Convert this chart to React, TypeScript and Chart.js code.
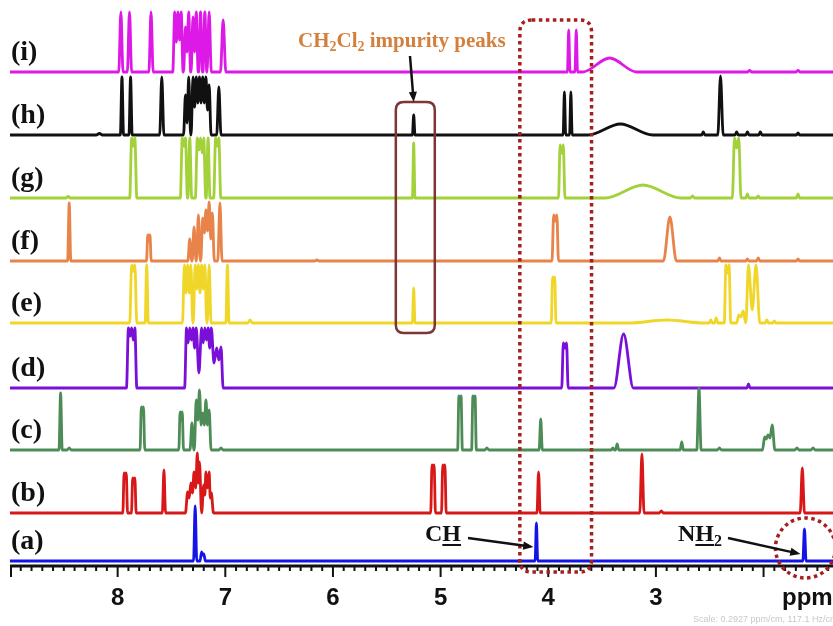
import React, { useEffect, useRef } from 'react';
import { Chart, registerables } from 'chart.js';

Chart.register(...registerables);

// ---- data ----
// each peak: [ppm, height, halfWidth?, valleyToNextPeak?]
type Peak = [number, number, number?, number?];

const PPM_MAX = 9.0;
const PPM_MIN = 1.355;

const seriesLabels = ['(a)', '(b)', '(c)', '(d)', '(e)', '(f)', '(g)', '(h)', '(i)'];
const seriesOffsets = [4, 52, 115, 177, 242, 304, 367, 430, 493];
const seriesColors = ['#1414E6', '#D81818', '#4E8C57', '#7A10D8', '#F0D628', '#E8834A', '#A3D13A', '#111111', '#DC19E6'];

const peaksA: Peak[] = [
  [7.28, 55, 0.015, 5], [7.22, 9, 0.015, 6], [7.2, 7, 0.015],
  [4.11, 38, 0.012], [1.62, 32, 0.015],
];
const peaksB: Peak[] = [
  [7.94, 40, 0.012, 35], [7.92, 40, 0.012], [7.86, 35, 0.012, 30], [7.84, 35, 0.012], [7.57, 43, 0.015],
  [7.35, 21, 0.02, 15], [7.32, 30, 0.02, 20], [7.29, 41, 0.02, 25], [7.26, 60, 0.02, 30], [7.24, 51, 0.02, 20],
  [7.2, 28, 0.02, 18], [7.18, 41, 0.02, 25], [7.15, 41, 0.02, 15], [7.13, 20, 0.02],
  [5.08, 48, 0.012, 42], [5.06, 48, 0.012], [4.98, 48, 0.012, 42], [4.96, 48, 0.012],
  [4.09, 41, 0.015], [3.13, 59, 0.02], [2.95, 2, 0.02], [1.64, 45, 0.02],
];
const peaksC: Peak[] = [
  [8.53, 57, 0.015], [8.45, 2, 0.02], [7.78, 43, 0.012, 35], [7.76, 43, 0.012],
  [7.42, 38, 0.012, 30], [7.4, 38, 0.012],
  [7.31, 27, 0.018, 20], [7.27, 50, 0.018, 30], [7.24, 60, 0.018, 25], [7.21, 37, 0.018, 25],
  [7.18, 50, 0.018, 25], [7.15, 40, 0.018], [7.04, 2, 0.02],
  [4.83, 54, 0.012, 45], [4.81, 54, 0.012], [4.7, 54, 0.012, 45], [4.68, 54, 0.012], [4.57, 2, 0.02],
  [4.07, 31, 0.015], [3.4, 2, 0.015], [3.36, 6, 0.015], [2.76, 8, 0.015], [2.6, 62, 0.02], [2.41, 2, 0.02],
  [1.99, 13, 0.02, 11], [1.96, 15, 0.02, 12], [1.92, 25, 0.025], [1.69, 2, 0.02], [1.54, 2, 0.02],
];
const peaksD: Peak[] = [
  [7.9, 60, 0.018, 52], [7.87, 60, 0.018, 48], [7.84, 60, 0.018],
  [7.36, 60, 0.018, 45], [7.33, 60, 0.018, 48], [7.3, 60, 0.018, 40], [7.27, 60, 0.025, 15],
  [7.22, 60, 0.025, 45], [7.19, 60, 0.018, 48], [7.16, 60, 0.018, 40], [7.13, 60, 0.025, 25],
  [7.08, 40, 0.025, 28], [7.04, 41, 0.02],
  [3.86, 45, 0.015, 40], [3.83, 45, 0.015], [3.3, 54, 0.09], [2.14, 4, 0.015],
];
const peaksE: Peak[] = [
  [7.87, 58, 0.018, 52], [7.84, 58, 0.018], [7.73, 58, 0.015],
  [7.38, 58, 0.018, 30], [7.35, 58, 0.018, 30], [7.32, 58, 0.018, 10], [7.28, 58, 0.018, 34],
  [7.25, 58, 0.018, 30], [7.22, 58, 0.018, 34], [7.19, 58, 0.018, 30], [7.15, 58, 0.018],
  [6.98, 58, 0.015], [6.77, 3, 0.02],
  [5.25, 35, 0.012],
  [3.96, 46, 0.012, 40], [3.94, 46, 0.012], [2.9, 3, 0.35],
  [2.49, 3, 0.015], [2.44, 5, 0.015], [2.35, 58, 0.015, 50], [2.32, 58, 0.015],
  [2.23, 8, 0.02, 6], [2.19, 12, 0.02], [2.14, 58, 0.035, 13], [2.07, 58, 0.035],
  [1.97, 3, 0.015], [1.9, 2, 0.015],
];
const peaksF: Peak[] = [
  [8.45, 58, 0.015], [7.72, 26, 0.012, 20], [7.7, 26, 0.012],
  [7.33, 22, 0.018, 12], [7.29, 34, 0.018, 18], [7.25, 46, 0.018, 25], [7.21, 43, 0.018, 28],
  [7.18, 51, 0.018, 30], [7.15, 59, 0.018, 22], [7.12, 48, 0.018], [7.05, 58, 0.02],
  [6.15, 1, 0.02],
  [3.95, 46, 0.015, 40], [3.92, 46, 0.015], [2.87, 44, 0.06],
  [2.41, 3, 0.015], [2.15, 2, 0.015], [2.05, 3, 0.015], [1.68, 2, 0.015],
];
const peaksG: Peak[] = [
  [8.46, 1.5, 0.02], [7.87, 60, 0.018, 52], [7.84, 60, 0.018],
  [7.4, 60, 0.018, 52], [7.37, 60, 0.018, 52], [7.33, 60, 0.018, 5], [7.26, 60, 0.018, 48],
  [7.23, 60, 0.018, 45], [7.2, 60, 0.018, 48], [7.16, 60, 0.018], [7.09, 60, 0.018, 52], [7.06, 60, 0.018],
  [5.25, 55, 0.012],
  [3.89, 53, 0.015, 45], [3.86, 53, 0.015], [3.12, 13, 0.35], [2.66, 2, 0.02],
  [2.27, 60, 0.02, 50], [2.23, 60, 0.02], [2.15, 4, 0.015], [2.05, 2, 0.015], [1.68, 4, 0.015],
];
const peaksH: Peak[] = [
  [8.17, 1.5, 0.03], [7.96, 58, 0.015], [7.88, 58, 0.015], [7.59, 58, 0.02],
  [7.37, 40, 0.018, 12], [7.34, 58, 0.018, 20], [7.3, 58, 0.018, 28], [7.27, 58, 0.018, 32],
  [7.24, 58, 0.018, 32], [7.21, 58, 0.018, 32], [7.18, 58, 0.018, 25], [7.15, 50, 0.018],
  [7.06, 48, 0.02],
  [5.25, 20, 0.012],
  [3.85, 43, 0.012], [3.79, 43, 0.012], [3.33, 11, 0.3], [2.56, 3, 0.015], [2.4, 59, 0.025],
  [2.25, 3, 0.015], [2.15, 3, 0.015], [2.03, 3, 0.015], [1.68, 2, 0.015],
];
const peaksI: Peak[] = [
  [7.97, 60, 0.02], [7.89, 60, 0.02], [7.69, 60, 0.02],
  [7.47, 60, 0.018, 30], [7.44, 60, 0.018, 32], [7.41, 60, 0.018, 22], [7.37, 45, 0.018, 20],
  [7.34, 60, 0.018, 25], [7.3, 55, 0.018, 20], [7.27, 60, 0.018, 28], [7.23, 60, 0.018, 30],
  [7.19, 60, 0.018, 25], [7.15, 60, 0.02],
  [7.02, 52, 0.025],
  [3.81, 42, 0.012], [3.74, 42, 0.012], [3.43, 14, 0.25], [2.13, 1.5, 0.02], [1.68, 1.5, 0.02],
];

const allPeaks = [peaksA, peaksB, peaksC, peaksD, peaksE, peaksF, peaksG, peaksH, peaksI];

const majorTickValues = [9, 8, 7, 6, 5, 4, 3, 2];
const tickLabelValues = [8, 7, 6, 5, 4, 3];
const unitLabel = 'ppm';
const scaleNote = 'Scale: 0.2927 ppm/cm, 117.1 Hz/cm';

// ---- build line points from a peak table ----
function trace(peaks: Peak[], base: number) {
  const list = [...peaks].sort((a, b) => b[0] - a[0]);
  const pts: { x: number; y: number }[] = [{ x: PPM_MAX, y: base }];
  list.forEach((pk, i) => {
    const p = pk[0], h = pk[1], w = pk[2] ?? 0.015, v = pk[3] ?? 0;
    const prev = list[i - 1], next = list[i + 1];
    const pw = prev ? prev[2] ?? 0.015 : 0;
    const nw = next ? next[2] ?? 0.015 : 0;
    if (!prev || prev[0] - pw > p + w) pts.push({ x: p + w, y: base });
    pts.push({ x: p, y: base + h });
    if (!next || p - w > next[0] + nw) pts.push({ x: p - w, y: base });
    else pts.push({ x: (p + next[0]) / 2, y: base + v });
  });
  pts.push({ x: PPM_MIN, y: base });
  return pts;
}

function roundRectPath(ctx: CanvasRenderingContext2D, x: number, y: number, w: number, h: number, r: number) {
  ctx.beginPath();
  ctx.moveTo(x + r, y);
  ctx.lineTo(x + w - r, y);
  ctx.quadraticCurveTo(x + w, y, x + w, y + r);
  ctx.lineTo(x + w, y + h - r);
  ctx.quadraticCurveTo(x + w, y + h, x + w - r, y + h);
  ctx.lineTo(x + r, y + h);
  ctx.quadraticCurveTo(x, y + h, x, y + h - r);
  ctx.lineTo(x, y + r);
  ctx.quadraticCurveTo(x, y, x + r, y);
  ctx.closePath();
}

function arrow(ctx: CanvasRenderingContext2D, x1: number, y1: number, x2: number, y2: number) {
  const ang = Math.atan2(y2 - y1, x2 - x1);
  const head = 11, spread = 0.38;
  ctx.beginPath();
  ctx.moveTo(x1, y1);
  ctx.lineTo(x2 - Math.cos(ang) * head * 0.8, y2 - Math.sin(ang) * head * 0.8);
  ctx.stroke();
  ctx.beginPath();
  ctx.moveTo(x2, y2);
  ctx.lineTo(x2 - head * Math.cos(ang - spread), y2 - head * Math.sin(ang - spread));
  ctx.lineTo(x2 - head * Math.cos(ang + spread), y2 - head * Math.sin(ang + spread));
  ctx.closePath();
  ctx.fill();
}

const decor = {
  id: 'decor',
  afterDatasetsDraw(chart: any) {
    const ctx: CanvasRenderingContext2D = chart.ctx;
    const xs = chart.scales.x, ys = chart.scales.y;
    const X = (v: number) => xs.getPixelForValue(v);
    const Y = (v: number) => ys.getPixelForValue(v);
    const area = chart.chartArea;
    const axisY = area.bottom;
    ctx.save();

    // axis line + ticks
    ctx.strokeStyle = '#111';
    ctx.lineWidth = 3;
    ctx.beginPath();
    ctx.moveTo(area.left, axisY + 1);
    ctx.lineTo(area.right, axisY + 1);
    ctx.stroke();
    ctx.lineWidth = 2;
    for (let k = Math.round(PPM_MAX * 10); k >= Math.ceil(PPM_MIN * 10); k--) {
      const v = k / 10;
      const major = majorTickValues.includes(v);
      const px = Math.max(X(v), area.left + 1);
      ctx.beginPath();
      ctx.moveTo(px, axisY);
      ctx.lineTo(px, axisY + (major ? 12 : 6));
      ctx.stroke();
    }
    ctx.fillStyle = '#111';
    ctx.font = 'bold 24px "Liberation Sans", Arial, sans-serif';
    ctx.textAlign = 'center';
    ctx.textBaseline = 'middle';
    tickLabelValues.forEach((v) => ctx.fillText(String(v), X(v), axisY + 33));
    ctx.textAlign = 'left';
    ctx.fillText(unitLabel, 782, axisY + 33);

    ctx.font = '9px "Liberation Sans", Arial, sans-serif';
    ctx.fillStyle = '#c8c8c8';
    ctx.fillText(scaleNote, 693, 620);

    // series labels
    ctx.fillStyle = '#111';
    ctx.font = 'bold 28px "Liberation Serif", "Times New Roman", serif';
    ctx.textBaseline = 'middle';
    seriesLabels.forEach((lab, i) => ctx.fillText(lab, 11, Y(seriesOffsets[i]) - 19));

    // dotted rounded box around CH region
    ctx.strokeStyle = '#A51F1F';
    ctx.lineWidth = 3.5;
    ctx.setLineDash([3.5, 3.5]);
    const bx1 = X(4.264), bx2 = X(3.598);
    roundRectPath(ctx, bx1, 20, bx2 - bx1, 552, 12);
    ctx.stroke();
    // dotted circle around NH2 peak
    ctx.beginPath();
    ctx.arc(X(1.62) + 1, 548, 30, 0, Math.PI * 2);
    ctx.stroke();
    ctx.setLineDash([]);

    // brown box around CH2Cl2 peaks
    ctx.strokeStyle = '#7D3535';
    ctx.lineWidth = 2.5;
    const cx1 = X(5.416), cx2 = X(5.054);
    roundRectPath(ctx, cx1, 102, cx2 - cx1, 231, 8);
    ctx.stroke();

    // CH2Cl2 impurity peaks text
    ctx.fillStyle = '#D4803C';
    ctx.textBaseline = 'alphabetic';
    const big = 'bold 21px "Liberation Serif", "Times New Roman", serif';
    const small = 'bold 14px "Liberation Serif", "Times New Roman", serif';
    const segs: [string, boolean][] = [['CH', false], ['2', true], ['Cl', false], ['2', true], [' impurity peaks', false]];
    let tx = 298;
    segs.forEach(([s, sub]) => {
      ctx.font = sub ? small : big;
      ctx.fillText(s, tx, sub ? 51 : 47);
      tx += ctx.measureText(s).width;
    });

    // arrows
    ctx.strokeStyle = '#111';
    ctx.fillStyle = '#111';
    ctx.lineWidth = 2.5;
    arrow(ctx, 410, 56, X(5.25), 102);
    arrow(ctx, 468, 538, X(4.11) - 3, 547);
    arrow(ctx, 728, 538, X(1.62) - 4, 554);

    // CH and NH2 labels
    ctx.font = 'bold 24px "Liberation Serif", "Times New Roman", serif';
    ctx.fillText('C', 425, 541);
    let w = ctx.measureText('C').width;
    ctx.fillText('H', 425 + w, 541);
    const wh = ctx.measureText('H').width;
    ctx.lineWidth = 2;
    ctx.beginPath();
    ctx.moveTo(425 + w, 545);
    ctx.lineTo(425 + w + wh, 545);
    ctx.stroke();

    ctx.fillText('N', 678, 541);
    w = ctx.measureText('N').width;
    ctx.fillText('H', 678 + w, 541);
    ctx.beginPath();
    ctx.moveTo(678 + w, 545);
    ctx.lineTo(678 + w + wh, 545);
    ctx.stroke();
    ctx.font = 'bold 16px "Liberation Serif", "Times New Roman", serif';
    ctx.fillText('2', 678 + w + wh, 546);

    ctx.restore();
  },
};

export default function App() {
  const ref = useRef<HTMLCanvasElement>(null);
  useEffect(() => {
    const canvas = ref.current;
    if (!canvas) return;
    const chart = new Chart(canvas, {
      type: 'line',
      data: {
        datasets: allPeaks.map((pk, i) => ({
          label: seriesLabels[i],
          data: trace(pk, seriesOffsets[i]),
          borderColor: seriesColors[i],
          borderWidth: 2.8,
          pointRadius: 0,
          fill: false,
          cubicInterpolationMode: 'monotone' as const,
        })),
      },
      options: {
        responsive: false,
        animation: false,
        events: [],
        layout: { padding: { left: 10, right: 0, top: 8, bottom: 61 } },
        scales: {
          x: { type: 'linear', reverse: true, min: PPM_MIN, max: PPM_MAX, display: false },
          y: { type: 'linear', min: 0, max: 557, display: false },
        },
        plugins: { legend: { display: false }, tooltip: { enabled: false } },
      },
      plugins: [decor],
    });
    return () => chart.destroy();
  }, []);
  return (
    <div style={{ position: 'absolute', left: 0, top: 0, width: 833, height: 626, background: '#fff' }}>
      <canvas ref={ref} width={833} height={626} style={{ display: 'block' }} />
    </div>
  );
}
